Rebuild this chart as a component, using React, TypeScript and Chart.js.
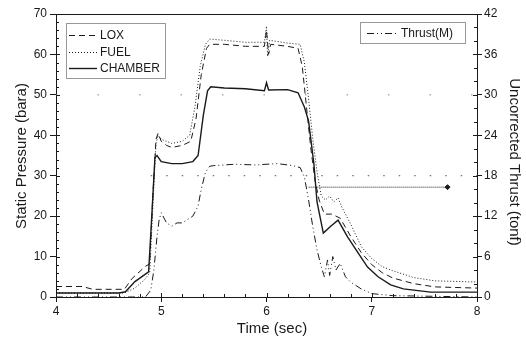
import React, { useEffect, useRef } from "react";
import { Chart, registerables } from "chart.js";

Chart.register(...registerables);

// ---------- data ----------
const loxTime = [4.0, 4.25, 4.35, 4.65, 4.72, 4.85, 4.89, 4.92, 4.95, 4.97, 5.0, 5.05, 5.1, 5.2, 5.28, 5.33, 5.38, 5.43, 5.46, 5.6, 5.8, 5.98, 6.0, 6.02, 6.04, 6.2, 6.3, 6.34, 6.38, 6.42, 6.46, 6.5, 6.55, 6.62, 6.7, 6.8, 6.9, 7.0, 7.1, 7.2, 7.4, 7.6, 8.0];
const loxPressure = [2.6, 2.6, 1.9, 1.9, 4.5, 7.6, 8.2, 25, 39, 40.5, 38.5, 37.5, 37, 37.5, 38.5, 44, 55, 61.5, 62.5, 62.5, 62, 62, 66, 60, 62.5, 62, 61.5, 57, 47, 37, 29, 24, 20.5, 20.5, 19.5, 15, 11, 8, 6, 4.7, 3.3, 2.5, 2.2];

const fuelTime = [4.0, 4.65, 4.75, 4.85, 4.89, 4.92, 4.95, 4.97, 5.0, 5.05, 5.1, 5.2, 5.27, 5.32, 5.37, 5.42, 5.46, 5.6, 5.8, 5.98, 6.0, 6.01, 6.03, 6.2, 6.32, 6.36, 6.4, 6.44, 6.48, 6.52, 6.56, 6.6, 6.64, 6.68, 6.72, 6.8, 6.9, 7.0, 7.1, 7.2, 7.4, 7.6, 8.0];
const fuelPressure = [1.0, 1.0, 2.2, 4.5, 6, 22, 38, 40, 39, 38.5, 38, 38.5, 40, 47, 57, 62.5, 63.8, 63.5, 63, 63, 67, 59.5, 63.5, 62.8, 62.5, 58, 49, 39, 31, 25, 24, 25, 23.5, 24.5, 22, 18, 12.5, 9.5, 7.5, 6.5, 4.8, 4, 3.7];

const chamberTime = [4.0, 4.6, 4.66, 4.75, 4.88, 4.91, 4.94, 4.96, 5.0, 5.1, 5.2, 5.3, 5.35, 5.4, 5.44, 5.47, 5.6, 5.8, 5.98, 6.0, 6.02, 6.2, 6.3, 6.36, 6.4, 6.45, 6.48, 6.54, 6.61, 6.68, 6.77, 6.87, 6.96, 7.06, 7.18, 7.3, 7.56, 8.0];
const chamberPressure = [1.0, 1.0, 1.3, 3.8, 6.2, 20, 34.5, 35, 33.5, 33, 33, 33.5, 35, 45, 51, 52, 51.7, 51.5, 51, 53, 51.2, 51.3, 50.5, 47, 43.5, 33, 23.5, 15.8, 17.5, 19, 14.9, 10.9, 7.4, 5, 3, 2, 1.2, 1.2];

const thrustTime = [4.0, 4.85, 4.9, 4.93, 4.96, 4.98, 5.0, 5.05, 5.1, 5.15, 5.2, 5.25, 5.3, 5.35, 5.38, 5.42, 5.46, 5.5, 5.7, 5.9, 6.1, 6.25, 6.32, 6.36, 6.4, 6.44, 6.48, 6.52, 6.55, 6.58, 6.6, 6.63, 6.66, 6.7, 6.75, 6.8, 6.9, 7.0, 7.2, 8.0];
const thrustTonf = [0, 0, 1, 4, 9, 11.5, 12.5, 11, 10.5, 11, 11, 11.5, 12, 13.5, 16, 18.5, 19.4, 19.5, 19.7, 19.6, 19.8, 19.5, 19.2, 17.8, 14.4, 10.4, 7, 4.5, 3, 5.5, 3.2, 6, 4, 5, 3, 2.2, 1.2, 0.5, 0.2, 0];

// dense dotted marker line (right axis)
const markTime = [6.4, 7.72];
const markTonf = [16.3, 16.3];

// sparse dotted reference levels (left axis)
const refLevelA = 50;
const refLevelATime = [4.0, 8.0];
const refLevelB = 30;
const refLevelBTime = [4.9, 8.0];

const xTicksRange = [4, 8];
const leftRange = [0, 70];
const rightRange = [0, 42];

// ---------- style ----------
const INK = "#1a1a1a";
const FONT = '"Liberation Sans", Arial, sans-serif';
const DASH_LOX = [6, 4];
const DASH_FUEL = [1, 2];
const DASH_CH: number[] = [];
const DASH_THR = [7, 3, 1, 3, 1, 3];

const pts = (xs: number[], ys: number[]) => xs.map((x, i) => ({ x, y: ys[i] }));

const decorPlugin = {
  id: "decor",
  afterDraw(chart: any) {
    const { ctx, chartArea: a, scales } = chart;
    ctx.save();
    ctx.strokeStyle = INK;
    ctx.fillStyle = INK;
    ctx.lineWidth = 1;
    ctx.setLineDash([]);
    // top frame
    ctx.beginPath();
    ctx.moveTo(a.left, a.top + 0.5);
    ctx.lineTo(a.right, a.top + 0.5);
    ctx.stroke();

    // minor / inner ticks
    const xs = scales.x, yl = scales.y, yr = scales.y2;
    ctx.beginPath();
    for (let v = 4; v <= 8.0001; v += 0.2) {
      const p = Math.round(xs.getPixelForValue(v)) + 0.5;
      const major = Math.abs(v - Math.round(v)) < 1e-6;
      ctx.moveTo(p, a.bottom);
      ctx.lineTo(p, a.bottom - (major ? 4 : 3));
    }
    for (let v = 0; v <= 70; v += 2) {
      const p = Math.round(yl.getPixelForValue(v)) + 0.5;
      const major = v % 10 === 0;
      ctx.moveTo(a.left, p);
      ctx.lineTo(a.left + (major ? 4 : 3), p);
    }
    for (let v = 0; v <= 42; v += 2) {
      const p = Math.round(yr.getPixelForValue(v)) + 0.5;
      const major = v % 6 === 0;
      ctx.moveTo(a.right, p);
      ctx.lineTo(a.right - (major ? 4 : 3), p);
    }
    ctx.stroke();

    // axis titles
    ctx.font = `15px ${FONT}`;
    ctx.textAlign = "center";
    ctx.textBaseline = "middle";
    ctx.fillText("Time (sec)", 272, 329);
    ctx.save();
    ctx.translate(22, 156);
    ctx.rotate(-Math.PI / 2);
    ctx.fillText("Static Pressure (bara)", 0, 0);
    ctx.restore();
    ctx.save();
    ctx.translate(514, 162);
    ctx.rotate(Math.PI / 2);
    ctx.fillText("Uncorrected Thrust (tonf)", 0, 0);
    ctx.restore();

    // legends
    const drawBox = (x: number, y: number, w: number, h: number) => {
      ctx.save();
      ctx.fillStyle = "#fff";
      ctx.fillRect(x, y, w, h);
      ctx.setLineDash([1, 1]);
      ctx.strokeStyle = "#333";
      ctx.strokeRect(x + 0.5, y + 0.5, w, h);
      ctx.restore();
    };
    const sample = (x1: number, x2: number, y: number, dash: number[], lw: number, label: string) => {
      ctx.save();
      ctx.setLineDash(dash);
      ctx.lineWidth = lw;
      ctx.beginPath();
      ctx.moveTo(x1, y + 0.5);
      ctx.lineTo(x2, y + 0.5);
      ctx.stroke();
      ctx.restore();
      ctx.font = `12px ${FONT}`;
      ctx.textAlign = "left";
      ctx.textBaseline = "middle";
      ctx.fillText(label, x2 + 3, y + 1);
    };
    drawBox(66, 23, 99, 55);
    sample(69, 97, 35, DASH_LOX, 1, "LOX");
    sample(69, 97, 52, DASH_FUEL, 1, "FUEL");
    sample(69, 97, 68, DASH_CH, 1.4, "CHAMBER");
    drawBox(360, 22, 105, 21);
    sample(367, 398, 33, DASH_THR, 1, "Thrust(M)");
    ctx.restore();
  },
};

export default function App() {
  const ref = useRef<HTMLCanvasElement | null>(null);
  useEffect(() => {
    if (!ref.current) return;
    const base = { pointRadius: 0, borderColor: INK, borderWidth: 1, tension: 0, fill: false };
    const chart = new Chart(ref.current, {
      type: "line",
      data: {
        datasets: [
          { ...base, label: "refA", data: pts(refLevelATime, refLevelATime.map(() => refLevelA)), borderDash: [1.5, 40], borderColor: "#888", yAxisID: "y" },
          { ...base, label: "refB", data: pts(refLevelBTime, refLevelBTime.map(() => refLevelB)), borderDash: [1.5, 14], borderColor: "#555", yAxisID: "y" },
          { ...base, label: "mark", data: pts(markTime, markTonf), borderDash: [1, 1], yAxisID: "y2", pointRadius: [0, 2.5], pointBackgroundColor: INK, pointBorderColor: INK, pointStyle: "rectRot" },
          { ...base, label: "Thrust(M)", data: pts(thrustTime, thrustTonf), borderDash: DASH_THR, yAxisID: "y2" },
          { ...base, label: "FUEL", data: pts(fuelTime, fuelPressure), borderDash: DASH_FUEL, yAxisID: "y" },
          { ...base, label: "LOX", data: pts(loxTime, loxPressure), borderDash: DASH_LOX, yAxisID: "y" },
          { ...base, label: "CHAMBER", data: pts(chamberTime, chamberPressure), borderWidth: 1.4, yAxisID: "y" },
        ],
      },
      options: {
        animation: false,
        responsive: false,
        devicePixelRatio: 1,
        layout: { padding: { top: 14, left: 0, right: 0, bottom: 0 } },
        plugins: { legend: { display: false }, tooltip: { enabled: false } },
        scales: {
          x: {
            type: "linear",
            min: xTicksRange[0],
            max: xTicksRange[1],
            ticks: { stepSize: 1, color: INK, font: { family: FONT, size: 12 }, padding: 2, maxRotation: 0 },
            grid: { drawOnChartArea: false, drawTicks: true, tickLength: 5, color: INK },
            border: { display: true, color: INK, width: 1 },
            afterFit: (s: any) => { s.height = 46; },
          },
          y: {
            position: "left",
            min: leftRange[0],
            max: leftRange[1],
            ticks: { stepSize: 10, color: INK, font: { family: FONT, size: 12 }, padding: 3 },
            grid: { drawOnChartArea: false, drawTicks: true, tickLength: 6, color: INK },
            border: { display: true, color: INK, width: 1 },
            afterFit: (s: any) => { s.width = 56; },
          },
          y2: {
            position: "right",
            min: rightRange[0],
            max: rightRange[1],
            ticks: { stepSize: 6, color: INK, font: { family: FONT, size: 12 }, padding: 2 },
            grid: { drawOnChartArea: false, drawTicks: true, tickLength: 5, color: INK },
            border: { display: true, color: INK, width: 1 },
            afterFit: (s: any) => { s.width = 49; },
          },
        },
      },
      plugins: [decorPlugin],
    } as any);
    return () => chart.destroy();
  }, []);
  return (
    <div style={{ position: "fixed", left: 0, top: 0, width: 526, height: 343, background: "#fff" }}>
      <canvas ref={ref} width={526} height={343} style={{ display: "block" }} />
    </div>
  );
}
